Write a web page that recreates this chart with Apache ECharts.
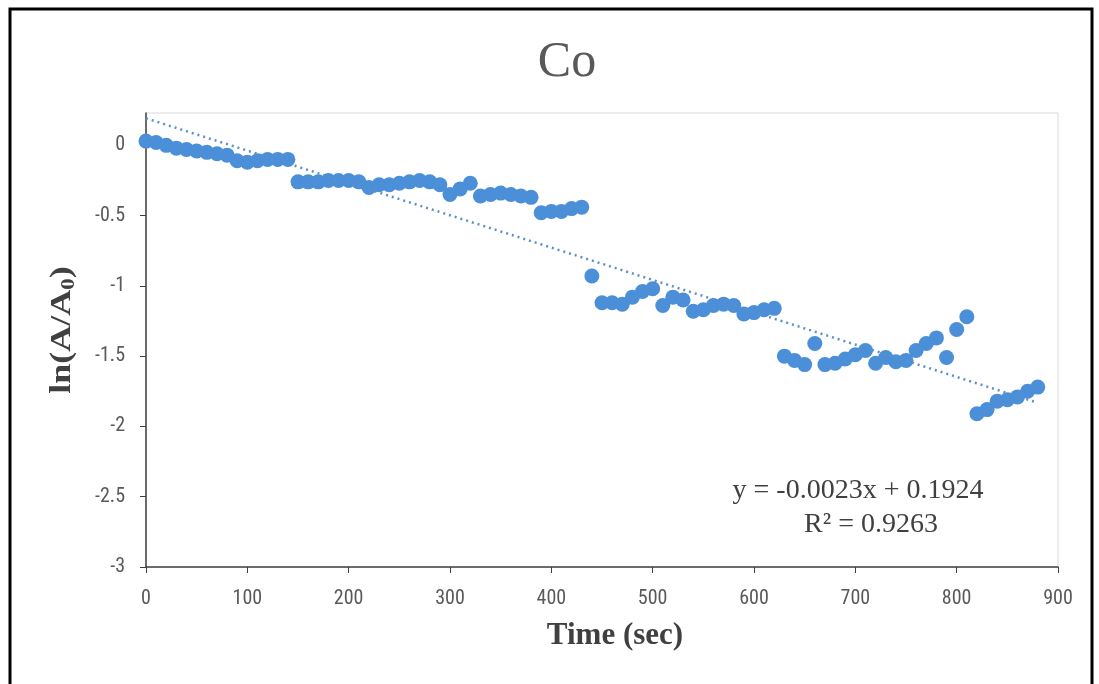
<!DOCTYPE html>
<html>
<head>
<meta charset="utf-8">
<title>Co</title>
<script src="https://cdn.jsdelivr.net/npm/echarts@6/dist/echarts.min.js"></script>
<style>
  html, body { margin: 0; padding: 0; background: #fff; }
  #chart { width: 1099px; height: 684px; }
</style>
</head>
<body>
<div id="chart"></div>
<script>
// Time (s) and ln(A/A0) readings for Co
const timeSec = [
  0, 10, 20, 30, 40, 50, 60, 70, 80, 90, 100, 110, 120, 130, 140,
  150, 160, 170, 180, 190, 200, 210, 220, 230, 240, 250, 260, 270, 280, 290,
  300, 310, 320, 330, 340, 350, 360, 370, 380, 390, 400, 410, 420, 430,
  440, 450, 460, 470, 480, 490, 500, 510, 520, 530, 540, 550, 560, 570, 580, 590, 600, 610, 620,
  630, 640, 650, 660, 670, 680, 690, 700, 710, 720, 730, 740, 750, 760, 770, 780, 790, 800, 810,
  820, 830, 840, 850, 860, 870, 880
];
const lnRatio = [
  0.03, 0.02, 0.00, -0.02, -0.03, -0.04, -0.05, -0.06, -0.07, -0.11, -0.12, -0.11, -0.10, -0.10, -0.10,
  -0.26, -0.26, -0.26, -0.25, -0.25, -0.25, -0.26, -0.30, -0.28, -0.28, -0.27, -0.26, -0.25, -0.26, -0.28,
  -0.35, -0.31, -0.27, -0.36, -0.35, -0.34, -0.35, -0.36, -0.37, -0.48, -0.47, -0.47, -0.45, -0.44,
  -0.93, -1.12, -1.12, -1.13, -1.08, -1.04, -1.02, -1.14, -1.08, -1.10, -1.18, -1.17, -1.14, -1.13, -1.14, -1.20, -1.19, -1.17, -1.16,
  -1.50, -1.53, -1.56, -1.41, -1.56, -1.55, -1.52, -1.49, -1.46, -1.55, -1.51, -1.54, -1.53, -1.46, -1.41, -1.37, -1.51, -1.31, -1.22,
  -1.91, -1.88, -1.82, -1.81, -1.79, -1.75, -1.72
];

// Linear fit reported on the chart
const fitSlope = -0.0023;
const fitIntercept = 0.1924;
const fitR2 = 0.9263;
const fitRange = [0, 880];

// Axis ticks
const yTicks = [-3, -2.5, -2, -1.5, -1, -0.5, 0];
const xTicks = [0, 100, 200, 300, 400, 500, 600, 700, 800, 900];

const points = timeSec.map((t, i) => [t, lnRatio[i]]);
const fitLine = fitRange.map(t => [t, fitSlope * t + fitIntercept]);

const tickFont = "'Liberation Sans Narrow', 'Roboto Condensed', 'Arial Narrow', 'Liberation Sans', sans-serif";
const serif = "'Liberation Serif', 'Times New Roman', serif";

const chart = echarts.init(document.getElementById('chart'), null, { renderer: 'canvas' });
chart.setOption({
  backgroundColor: '#ffffff',
  animation: false,
  grid: {
    left: 146, right: 41, top: 113, bottom: 117,
    show: true, borderColor: '#d9d9d9', borderWidth: 1, backgroundColor: 'transparent'
  },
  xAxis: {
    type: 'value',
    min: 0, max: 900, interval: 100,
    axisLine: { show: true, onZero: false, lineStyle: { color: '#404040', width: 1.5 } },
    axisTick: { show: true, inside: false, length: 6, lineStyle: { color: '#404040' } },
    axisLabel: {
      margin: 22,
      fontFamily: tickFont, fontSize: 20, color: '#595959',
      customValues: xTicks
    },
    splitLine: { show: false }
  },
  yAxis: {
    type: 'value',
    min: -3, max: 0.23,
    axisLine: { show: true, onZero: false, lineStyle: { color: '#404040', width: 1.5 } },
    axisTick: { show: true, inside: false, length: 6, lineStyle: { color: '#404040' }, customValues: yTicks },
    axisLabel: {
      margin: 21,
      fontFamily: tickFont, fontSize: 20, color: '#595959',
      customValues: yTicks
    },
    splitLine: { show: false }
  },
  series: [
    {
      name: 'ln(A/A0)',
      type: 'scatter',
      data: points,
      symbol: 'circle',
      symbolSize: 15,
      itemStyle: { color: '#4a8fd8', opacity: 1 },
      z: 3
    },
    {
      name: 'Linear fit',
      type: 'line',
      data: fitLine,
      symbol: 'none',
      lineStyle: { color: '#5b8fc9', width: 2.5, type: [2, 4] },
      z: 4
    }
  ],
  graphic: [
    {
      type: 'rect',
      shape: { x: 10, y: 9, width: 1082, height: 700 },
      style: { fill: 'none', stroke: '#000000', lineWidth: 3 },
      silent: true
    },
    // chart title
    {
      type: 'text',
      x: 567, y: 63,
      style: {
        text: 'Co', align: 'center', verticalAlign: 'middle',
        fontFamily: serif, fontSize: 50, fill: '#595959'
      }
    },
    // x axis title
    {
      type: 'text',
      x: 615, y: 636,
      style: {
        text: 'Time (sec)', align: 'center', verticalAlign: 'middle',
        fontFamily: serif, fontSize: 31, fontWeight: 'bold', fill: '#404040'
      }
    },
    // y axis title, stretched along its reading direction
    {
      type: 'text',
      x: 62, y: 330,
      rotation: Math.PI / 2,
      scaleX: 1.2,
      style: {
        text: '{a|ln(A/A}{s|0}{a|)}', align: 'center', verticalAlign: 'middle',
        rich: {
          a: { fontFamily: serif, fontSize: 30, fontWeight: 'bold', fill: '#404040' },
          s: { fontFamily: serif, fontSize: 19, fontWeight: 'bold', fill: '#404040', padding: [14, 0, 0, 0] }
        }
      }
    },
    // fit equation
    {
      type: 'text',
      x: 858, y: 491,
      style: {
        text: 'y = ' + fitSlope + 'x + ' + fitIntercept, align: 'center', verticalAlign: 'middle',
        fontFamily: serif, fontSize: 28, fill: '#404040'
      }
    },
    {
      type: 'text',
      x: 871, y: 525,
      style: {
        text: 'R\u00B2 = ' + fitR2, align: 'center', verticalAlign: 'middle',
        fontFamily: serif, fontSize: 28, fill: '#404040'
      }
    }
  ]
});
</script>
</body>
</html>
